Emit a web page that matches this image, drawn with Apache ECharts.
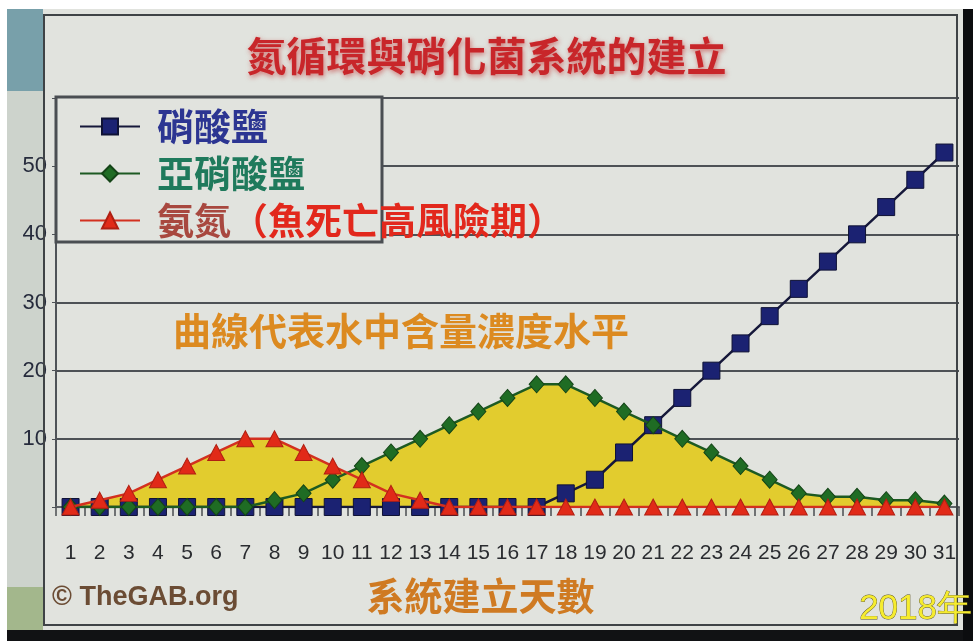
<!DOCTYPE html>
<html>
<head>
<meta charset="utf-8">
<script src="https://cdn.jsdelivr.net/npm/echarts@6/dist/echarts.min.js"></script>
<style>
html,body{margin:0;padding:0;background:#e1e3de;}
#chart{width:973px;height:641px;}
</style>
</head>
<body>
<div id="chart"></div>
<script>
// ---- data ----
const days = ['1','2','3','4','5','6','7','8','9','10','11','12','13','14','15','16','17','18','19','20','21','22','23','24','25','26','27','28','29','30','31'];
const nitrate = [0,0,0,0,0,0,0,0,0,0,0,0,0,0,0,0,0,2,4,8,12,16,20,24,28,32,36,40,44,48,52];
const nitrite = [0,0,0,0,0,0,0,1,2,4,6,8,10,12,14,16,18,18,16,14,12,10,8,6,4,2,1.5,1.5,1,1,0.5];
const ammonia = [0,1,2,4,6,8,10,10,8,6,4,2,1,0,0,0,0,0,0,0,0,0,0,0,0,0,0,0,0,0,0];
const yTicks = [10,20,30,40,50];
const seriesNames = ['硝酸鹽','亞硝酸鹽','氨氮（魚死亡高風險期）'];
const titleText = '氮循環與硝化菌系統的建立';
const noteText = '曲線代表水中含量濃度水平';
const xName = '系統建立天數';
const credit = '© TheGAB.org';
const stamp = '2018年';

const BG = '#e1e3de';
const CJK = '"Noto Sans CJK TC","Noto Sans CJK SC",sans-serif';

const chart = echarts.init(document.getElementById('chart'), null, {renderer:'canvas'});

const option = {
  backgroundColor: BG,
  animation: false,
  title: {
    text: titleText,
    left: 'center',
    top: 31,
    textStyle: {
      fontFamily: CJK, fontSize: 40, fontWeight: 'bold', color: '#c8262a',
      textShadowColor: 'rgba(190,30,30,0.55)', textShadowBlur: 5, textShadowOffsetX: 1, textShadowOffsetY: 2
    }
  },
  grid: { left: 56, right: 14, top: 98, bottom: 134, containLabel: false },
  legend: {
    orient: 'vertical',
    left: 79,
    top: 108,
    padding: 0,
    z: 10,
    itemWidth: 60,
    itemHeight: 20,
    itemGap: 10,
    data: [
      { name: seriesNames[0], textStyle: { color: '#2c3592' } },
      { name: seriesNames[1], textStyle: { color: '#1f7a5c' } },
      { name: seriesNames[2] }
    ],
    textStyle: {
      fontFamily: CJK, fontSize: 37, fontWeight: 'bold', lineHeight: 34,
      padding: [0, 0, 0, 12],
      rich: {
        a: { fontFamily: CJK, fontSize: 37, fontWeight: 'bold', color: '#a8483f', lineHeight: 34 },
        b: { fontFamily: CJK, fontSize: 37, fontWeight: 'bold', color: '#e2281c', lineHeight: 34 }
      }
    },
    formatter: function (name) {
      if (name === seriesNames[2]) {
        return '{a|氨氮}{b|（魚死亡高風險期）}';
      }
      return name;
    }
  },
  xAxis: {
    type: 'category',
    data: days,
    boundaryGap: true,
    name: xName,
    nameLocation: 'middle',
    nameGap: 70,
    nameTextStyle: {
      fontFamily: CJK, fontSize: 38, fontWeight: 'bold', color: '#cf7a22',
      padding: [0, 54, 0, 0]
    },
    axisLine: { show: true, lineStyle: { color: '#5e6266', width: 2 } },
    axisTick: { show: true, alignWithLabel: false, length: 9, lineStyle: { color: '#4a4e52', width: 1.5 } },
    axisLabel: {
      margin: 36, interval: 0,
      fontFamily: '"Liberation Sans",Arial,sans-serif', fontSize: 21, color: '#2a2c30'
    },
    splitLine: { show: false }
  },
  yAxis: {
    type: 'value',
    min: 0, max: 60, interval: 10,
    axisLine: { show: true, lineStyle: { color: '#4f5358', width: 2 } },
    axisTick: { show: true, length: 4, lineStyle: { color: '#4f5358' } },
    axisLabel: {
      margin: 9,
      fontFamily: '"Liberation Sans",Arial,sans-serif', fontSize: 22, color: '#262b3c',
      formatter: function (v) { return yTicks.indexOf(v) >= 0 ? String(v) : ''; }
    },
    splitLine: { show: true, lineStyle: { color: '#4d5156', width: 2 } }
  },
  series: [
    // yellow area fills (drawn beneath all lines)
    {
      name: 'area-nitrite', type: 'line', data: nitrite, z: 1, silent: true,
      symbol: 'none', lineStyle: { width: 0 },
      areaStyle: { color: '#e2cc2e', opacity: 1 }
    },
    {
      name: 'area-ammonia', type: 'line', data: ammonia, z: 1, silent: true,
      symbol: 'none', lineStyle: { width: 0 },
      areaStyle: { color: '#e2cc2e', opacity: 1 }
    },
    {
      name: seriesNames[0], type: 'line', data: nitrate, z: 3,
      symbol: 'rect', symbolSize: 17,
      color: '#1b2272',
      lineStyle: { color: '#16183a', width: 2.5 },
      itemStyle: { color: '#1b2272', borderColor: '#0f1235', borderWidth: 1 }
    },
    {
      name: seriesNames[1], type: 'line', data: nitrite, z: 4,
      symbol: 'diamond', symbolSize: [15, 17],
      color: '#1f6c24',
      lineStyle: { color: '#1d5a22', width: 2.5 },
      itemStyle: { color: '#1f6c24', borderColor: '#144417', borderWidth: 1 }
    },
    {
      name: seriesNames[2], type: 'line', data: ammonia, z: 5,
      symbol: 'triangle', symbolSize: [17, 16],
      color: '#e12a18',
      lineStyle: { color: '#d3301f', width: 2.5 },
      itemStyle: { color: '#e12a18', borderColor: '#b01f12', borderWidth: 1 }
    }
  ],
  graphic: [
    // photo surroundings
    { type: 'rect', z: 0, shape: { x: 0, y: 0, width: 973, height: 9 }, style: { fill: '#ffffff' } },
    { type: 'rect', z: 0, shape: { x: 0, y: 0, width: 7, height: 641 }, style: { fill: '#ffffff' } },
    { type: 'rect', z: 0, shape: { x: 7, y: 9, width: 36, height: 82 }, style: { fill: '#78a0aa' } },
    { type: 'rect', z: 0, shape: { x: 7, y: 91, width: 36, height: 496 }, style: { fill: '#cdd3cc' } },
    { type: 'rect', z: 0, shape: { x: 7, y: 587, width: 36, height: 44 }, style: { fill: '#a3b78c' } },
    { type: 'rect', z: 0, shape: { x: 7, y: 630, width: 966, height: 11 }, style: { fill: '#111214' } },
    { type: 'rect', z: 0, shape: { x: 963, y: 9, width: 10, height: 632 }, style: { fill: '#0c0d0f' } },
    // frame
    { type: 'rect', z: 1, shape: { x: 44, y: 15, width: 913, height: 610 }, style: { fill: null, stroke: '#3f4346', lineWidth: 2 } },
    // legend box
    { type: 'rect', z: 6, shape: { x: 56, y: 97, width: 326, height: 145 }, style: { fill: BG, stroke: '#4a4e52', lineWidth: 3 } },
    // note text
    { type: 'text', z: 6, style: { text: noteText, x: 401, y: 331, textAlign: 'center', textVerticalAlign: 'middle',
      font: 'bold 38px ' + CJK, fill: '#dc8a20' } },
    // credit
    { type: 'text', z: 6, style: { text: credit, x: 52, y: 598, textAlign: 'left', textVerticalAlign: 'middle',
      font: 'bold 27px "Liberation Sans",Arial,sans-serif', fill: '#6b4c34' } },
    // stamp
    { type: 'text', z: 7, style: { text: stamp, x: 972, y: 609, textAlign: 'right', textVerticalAlign: 'middle',
      font: '35px "Liberation Sans",Arial,sans-serif', fill: '#f6ec2e',
      stroke: '#5a5220', lineWidth: 0.8 } }
  ]
};

chart.setOption(option);
</script>
</body>
</html>
